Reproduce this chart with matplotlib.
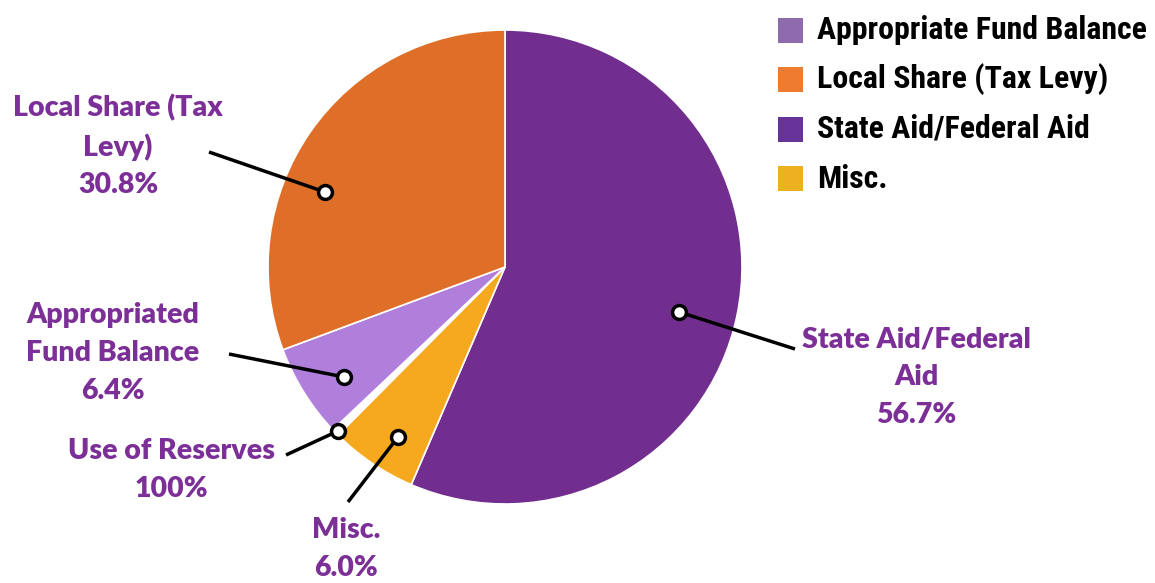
import matplotlib
matplotlib.use("Agg")
import matplotlib.pyplot as plt
from matplotlib.patches import Rectangle

# ---- data ----
slice_labels = ["State Aid/Federal Aid", "Misc.", "Use of Reserves",
                "Appropriated Fund Balance", "Local Share (Tax Levy)"]
slice_values = [56.7, 6.0, 0.5, 6.4, 30.8]
slice_colors = ["#722E8F", "#F6A81E", "#FFFFFF", "#B07EDB", "#DF6F28"]

callout_texts = ["State Aid/Federal\nAid\n56.7%", "Misc.\n6.0%",
                 "Use of Reserves\n100%", "Appropriated\nFund Balance\n6.4%",
                 "Local Share (Tax\nLevy)\n30.8%"]

legend_labels = ["Appropriate Fund Balance", "Local Share (Tax Levy)",
                 "State Aid/Federal Aid", "Misc."]
legend_colors = ["#8E6BAD", "#EE7B30", "#663399", "#EDB120"]

W, H = 1155, 583
fig = plt.figure(figsize=(W / 100, H / 100), dpi=100)
ax = fig.add_axes([0, 0, 1, 1])

cx, cy, R = 505, H - 267, 237
ax.pie(slice_values, colors=slice_colors, startangle=90, counterclock=False,
       center=(cx, cy), radius=R,
       wedgeprops=dict(edgecolor="white", linewidth=1.2))
ax.set_xlim(0, W)
ax.set_ylim(0, H)
ax.set_aspect("equal")
ax.axis("off")

label_color = "#7B2F97"
# (marker px, line end px, text center px)
callouts = [
    ((679, 312), (795, 349), (916, 377)),
    ((398, 437), (348, 502), (346, 549)),
    ((338, 431), (286, 455), (171, 470)),
    ((344, 377), (229, 354), (113, 353)),
    ((325, 192), (209, 152), (118, 146)),
]
for (m, e, t), txt in zip(callouts, callout_texts):
    ax.plot([m[0], e[0]], [H - m[1], H - e[1]], color="black", lw=2.5,
            solid_capstyle="butt", zorder=5)
    ax.plot([m[0]], [H - m[1]], marker="o", ms=10, mfc="white", mec="black",
            mew=2.5, zorder=6)
    ax.text(t[0], H - t[1], txt, ha="center", va="center", color=label_color,
            fontsize=20.5, fontweight="heavy", family="Lato", linespacing=1.55)

# legend
leg_texts = []
for i, (lab, col) in enumerate(zip(legend_labels, legend_colors)):
    yc = 30 + i * 49.5
    ax.add_patch(Rectangle((778, H - yc - 12.5), 25, 25, facecolor=col,
                           edgecolor="none"))
    leg_texts.append(ax.text(817, H - yc, lab, ha="left", va="center",
                             color="black", fontsize=22, fontweight="bold",
                             family=["Roboto Condensed", "Roboto"]))

# fit the longest legend entry to the reference width (~330 px)
fig.canvas.draw()
r = fig.canvas.get_renderer()
wmax = max(t.get_window_extent(r).width for t in leg_texts)
scale = 330 / wmax
for t in leg_texts:
    t.set_fontsize(22 * scale)

fig.savefig("out.png", dpi=100)
